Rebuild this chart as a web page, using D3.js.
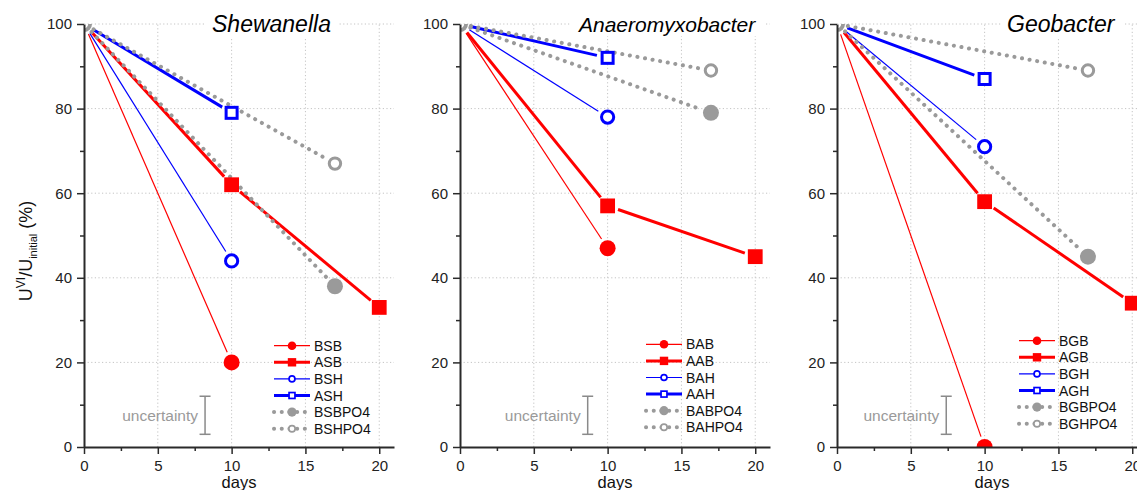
<!DOCTYPE html>
<html>
<head>
<meta charset="utf-8">
<script src="https://cdn.jsdelivr.net/npm/d3@7"></script>
<style>
  body { margin: 0; background: #fff; }
  svg { display: block; font-family: Arial, "Liberation Sans", sans-serif; }
</style>
</head>
<body>
<div id="chart"></div>
<script>
// Data
const panelTitles = ["Shewanella", "Anaeromyxobacter", "Geobacter"];
const seriesNames = [
  ["BSB", "ASB", "BSH", "ASH", "BSBPO4", "BSHPO4"],
  ["BAB", "AAB", "BAH", "AAH", "BABPO4", "BAHPO4"],
  ["BGB", "AGB", "BGH", "AGH", "BGBPO4", "BGHPO4"]
];
const daysBB = [0, 10];
const daysAB = [0, 10, 20];
const daysBH = [0, 10];
const daysAH = [0, 10];
const daysPO4 = [0, 17];

// U(VI) remaining, %, one row per panel
const valuesBB = [[100, 20], [100, 47], [100, 0]];
const valuesAB = [[100, 62, 33], [100, 57, 45], [100, 58, 34]];
const valuesBH = [[100, 44], [100, 78], [100, 71]];
const valuesAH = [[100, 79], [100, 92], [100, 87]];
const valuesBPO4 = [[100, 38], [100, 79], [100, 45]];
const valuesHPO4 = [[100, 67], [100, 89], [100, 89]];

const uncertaintyDay = [8.2, 8.65, 7.4];
const uncertaintyRange = [3, 12];

const xTicks = [0, 5, 10, 15, 20];
const xMinorTicks = [2.5, 7.5, 12.5, 17.5];
const yTicks = [0, 20, 40, 60, 80, 100];
const yMinorTicks = [10, 30, 50, 70, 90];

// Layout
const width = 1137, height = 490;
const panelLeft = [84, 460, 837];
const panelWidth = 310;
const plotTop = 24, plotBottom = 447;
const titleX = [128, 119, 170];
const titleSize = [23, 21, 23];
const legendX = [190, 186, 182];
const legendTop = [345.7, 344.3, 340.7];
const legendStep = 16.6;

const RED = "#ff0000", BLUE = "#0000ff", GRAY = "#9a9a9a";
const styles = [
  { color: RED, width: 1.2, shape: "circle", filled: true, size: 8, lsize: 4.3 },
  { color: RED, width: 3, shape: "square", filled: true, size: 7.4, lsize: 4.2 },
  { color: BLUE, width: 1.2, shape: "circle", filled: false, size: 7.6, lsize: 3.8 },
  { color: BLUE, width: 3, shape: "square", filled: false, size: 7, lsize: 3.8 },
  { color: GRAY, width: 4, dotted: true, shape: "circle", filled: true, size: 8, lsize: 4.6 },
  { color: GRAY, width: 4, dotted: true, shape: "circle", filled: false, size: 7.2, lsize: 4 }
];

function seriesFor(p) {
  const sets = [
    [daysBB, valuesBB[p]], [daysAB, valuesAB[p]], [daysBH, valuesBH[p]],
    [daysAH, valuesAH[p]], [daysPO4, valuesBPO4[p]], [daysPO4, valuesHPO4[p]]
  ];
  return sets.map(([ds, vs], i) => ({
    name: seriesNames[p][i],
    style: styles[i],
    points: ds.map((d, j) => ({ day: d, value: vs[j] }))
  }));
}

const svg = d3.select("#chart")
  .append("svg")
  .attr("width", width)
  .attr("height", height)
  .attr("viewBox", `0 0 ${width} ${height}`);

const defs = svg.append("defs");

function drawMarker(g, cx, cy, st, r) {
  const sw = st.filled ? 0 : (r > 5 ? 3 : 1.7);
  if (st.shape === "circle") {
    g.append("circle")
      .attr("cx", cx).attr("cy", cy).attr("r", st.filled ? r : r - sw / 2)
      .attr("fill", st.filled ? st.color : "#fff")
      .attr("stroke", st.filled ? "none" : st.color)
      .attr("stroke-width", sw);
  } else {
    const h = st.filled ? r : r - sw / 2;
    g.append("rect")
      .attr("x", cx - h).attr("y", cy - h).attr("width", 2 * h).attr("height", 2 * h)
      .attr("fill", st.filled ? st.color : "#fff")
      .attr("stroke", st.filled ? "none" : st.color)
      .attr("stroke-width", sw);
  }
}

function styleLine(sel, st) {
  sel.attr("stroke", st.color)
    .attr("stroke-width", st.width)
    .attr("fill", "none");
  if (st.dotted) {
    sel.attr("stroke-dasharray", "0.1 7.6").attr("stroke-linecap", "round");
  }
}

const line = d3.line();

panelTitles.forEach((title, p) => {
  const x0 = panelLeft[p];
  const x = d3.scaleLinear().domain([0, 21]).range([x0, x0 + panelWidth]);
  const y = d3.scaleLinear().domain([0, 100]).range([plotBottom, plotTop]);

  const panel = svg.append("g").attr("class", "panel");

  // Grid
  panel.append("g")
    .selectAll("line.vgrid")
    .data(xTicks.filter(d => d > 0))
    .join("line")
    .attr("x1", d => x(d)).attr("x2", d => x(d))
    .attr("y1", y(0)).attr("y2", y(100))
    .attr("stroke", "#c4c4c4").attr("stroke-width", 1)
    .attr("stroke-dasharray", "1.2 2.4");
  panel.append("g")
    .selectAll("line.hgrid")
    .data(yTicks.filter(d => d > 0))
    .join("line")
    .attr("x1", x(0)).attr("x2", x(21))
    .attr("y1", d => y(d)).attr("y2", d => y(d))
    .attr("stroke", "#c4c4c4").attr("stroke-width", 1)
    .attr("stroke-dasharray", "1.2 2.4");

  // Title with white background over the grid
  const titleG = panel.append("g");
  const titleText = titleG.append("text")
    .attr("x", x0 + titleX[p])
    .attr("y", 32)
    .style("font-size", titleSize[p] + "px")
    .style("font-style", "italic")
    .attr("fill", "#000")
    .text(title);
  const bb = titleText.node().getBBox();
  titleG.insert("rect", "text")
    .attr("x", bb.x - 6).attr("y", bb.y).attr("width", bb.width + 14).attr("height", bb.height)
    .attr("fill", "#fff");

  // Uncertainty bar
  const ux = x(uncertaintyDay[p]);
  const ug = panel.append("g").attr("stroke", "#8a8a8a").attr("stroke-width", 1.5);
  ug.append("line").attr("x1", ux).attr("x2", ux).attr("y1", y(uncertaintyRange[0])).attr("y2", y(uncertaintyRange[1]));
  uncertaintyRange.forEach(v => {
    ug.append("line").attr("x1", ux - 5.5).attr("x2", ux + 5.5).attr("y1", y(v)).attr("y2", y(v));
  });
  panel.append("text")
    .attr("x", ux - 7)
    .attr("y", y(d3.mean(uncertaintyRange)))
    .attr("dy", "0.35em")
    .attr("text-anchor", "end")
    .style("font-size", "15.5px")
    .attr("fill", "#9a9a9a")
    .text("uncertainty");

  // Data
  const clipId = "clip" + p;
  defs.append("clipPath").attr("id", clipId)
    .append("rect")
    .attr("x", x(0)).attr("y", y(100))
    .attr("width", x(21) - x(0)).attr("height", y(0) - y(100));

  const dataG = panel.append("g").attr("clip-path", `url(#${clipId})`);
  const gap = 11;
  seriesFor(p).forEach(s => {
    const pts = s.points.map(d => [x(d.day), y(d.value)]);
    for (let i = 0; i < pts.length - 1; i++) {
      const [ax, ay] = pts[i], [bx, by] = pts[i + 1];
      const len = Math.hypot(bx - ax, by - ay);
      const ux2 = (bx - ax) / len, uy2 = (by - ay) / len;
      const seg = [[ax + ux2 * gap, ay + uy2 * gap], [bx - ux2 * gap, by - uy2 * gap]];
      dataG.append("path").attr("d", line(seg)).call(styleLine, s.style);
    }
  });
  seriesFor(p).forEach(s => {
    s.points.forEach(d => {
      if (d.day === 0 && !s.style.dotted) return;
      drawMarker(dataG, x(d.day), y(d.value), s.style, s.style.size);
    });
  });

  // Axes
  const axisColor = "#2a2a2a";
  panel.append("g")
    .attr("transform", `translate(0,${y(0)})`)
    .call(d3.axisBottom(x).tickValues(xTicks).tickSize(7).tickSizeOuter(0).tickPadding(6));
  panel.append("g")
    .attr("transform", `translate(0,${y(0)})`)
    .call(d3.axisBottom(x).tickValues(xMinorTicks).tickSize(4).tickSizeOuter(0).tickFormat(""))
    .select(".domain").remove();
  panel.append("g")
    .attr("transform", `translate(${x(0)},0)`)
    .call(d3.axisLeft(y).tickValues(yTicks).tickSize(7).tickSizeOuter(0).tickPadding(5));
  panel.append("g")
    .attr("transform", `translate(${x(0)},0)`)
    .call(d3.axisLeft(y).tickValues(yMinorTicks).tickSize(4).tickSizeOuter(0).tickFormat(""))
    .select(".domain").remove();

  panel.selectAll(".domain").attr("stroke", axisColor).attr("stroke-width", 2);
  panel.selectAll(".tick line").attr("stroke", axisColor).attr("stroke-width", 1.5);
  panel.selectAll(".tick text")
    .attr("fill", "#222")
    .style("font-size", "15px")
    .style("font-family", "Arial, 'Liberation Sans', sans-serif");

  panel.append("text")
    .attr("x", x0 + panelWidth / 2)
    .attr("y", 487.5)
    .attr("text-anchor", "middle")
    .style("font-size", "16.5px")
    .attr("fill", "#111")
    .text("days");

  // Legend
  const lg = panel.append("g");
  seriesFor(p).forEach((s, i) => {
    const ly = legendTop[p] + i * legendStep;
    const lx1 = x0 + legendX[p], lx2 = lx1 + 36;
    const st = s.style;
    lg.append("path")
      .attr("d", line([[lx1, ly], [lx2, ly]]))
      .call(styleLine, st);
    drawMarker(lg, (lx1 + lx2) / 2, ly, st, st.lsize);
    lg.append("text")
      .attr("x", lx2 + 4)
      .attr("y", ly)
      .attr("dy", "0.36em")
      .style("font-size", "14px")
      .attr("fill", "#111")
      .text(s.name);
  });
});

// Y axis title
const yLabel = svg.append("text")
  .attr("transform", "translate(32,251) rotate(-90)")
  .attr("text-anchor", "middle")
  .attr("fill", "#111")
  .style("font-size", "18px");
yLabel.append("tspan").text("U");
yLabel.append("tspan").attr("dy", -7).style("font-size", "12px").text("VI");
yLabel.append("tspan").attr("dy", 7).text("/U");
yLabel.append("tspan").attr("dy", 5).style("font-size", "11px").text("initial");
yLabel.append("tspan").attr("dy", -5).text(" (%)");
</script>
</body>
</html>
